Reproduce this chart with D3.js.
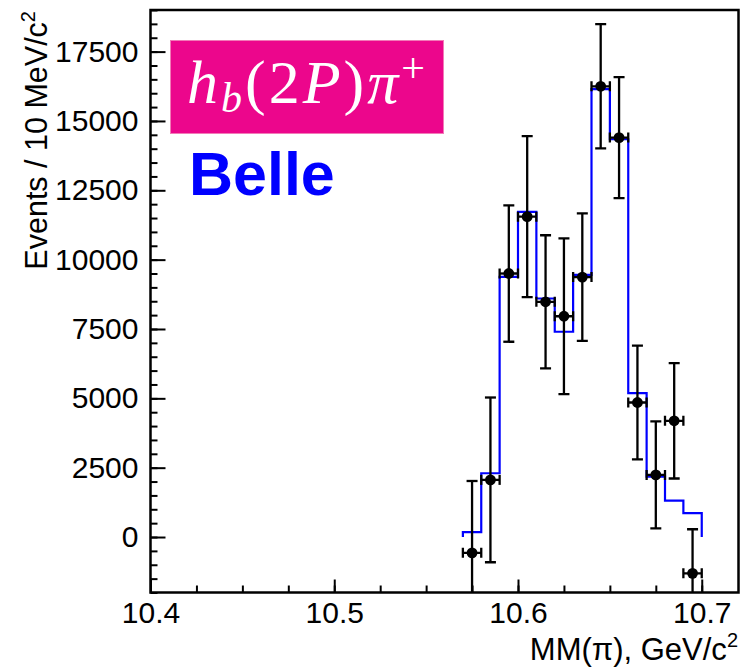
<!DOCTYPE html>
<html>
<head>
<meta charset="utf-8">
<script src="https://cdn.jsdelivr.net/npm/d3@7"></script>
<style>
  html, body { margin: 0; padding: 0; background: #fff; }
  svg { display: block; }
  .tick text { font-family: "Liberation Sans", Arial, sans-serif; }
</style>
</head>
<body>
<svg id="chart" width="743" height="668"></svg>
<script>

// bin centres of the data points, GeV/c^2
const binCenters = [10.575, 10.585, 10.595, 10.605, 10.615, 10.625, 10.635,
  10.645, 10.655, 10.665, 10.675, 10.685, 10.695];

// events per 10 MeV/c^2 and their errors
const dataCounts = [-570, 2060, 9500, 11550, 8480, 7960, 9370,
  16250, 14400, 4850, 2240, 4190, -1310];
const dataErrors = [2590, 2970, 2460, 2900, 2400, 2810, 2300,
  2240, 2180, 2050, 1930, 2080, 1590];

// fit histogram (blue), one value per bin
const binEdges = [10.57, 10.58, 10.59, 10.60, 10.61, 10.62, 10.63,
  10.64, 10.65, 10.66, 10.67, 10.68, 10.69, 10.70];
const fitCounts = [180, 2300, 9380, 11720, 8600, 7400, 9450,
  16150, 14340, 5190, 2180, 1310, 860];

const xMajorTicks = [10.4, 10.5, 10.6, 10.7];
const xMinorTicks = d3.range(10.4, 10.7201, 0.025);
const yMajorTicks = [0, 2500, 5000, 7500, 10000, 12500, 15000, 17500];
const yMinorTicks = d3.range(-2000, 19001, 500);


/**
 * @class
 */
class MassPlot {

  constructor(svg) {

    this._svg = svg;
    this._left = 150.5;
    this._top = 10;
    this._right = 738.5;
    this._bottom = 592.5;

    this._x = d3.scaleLinear()
      .domain([10.4, 10.72])
      .range([this._left, this._right]);

    this._y = d3.scaleLinear()
      .domain([-2000, 19000])
      .range([this._bottom, this._top]);
  }


  /**
   * Draw everything.
   */
  render() {

    this._svg.append('clipPath')
      .attr('id', 'plot-clip')
      .append('rect')
      .attr('x', this._left)
      .attr('y', this._top)
      .attr('width', this._right - this._left)
      .attr('height', this._bottom - this._top);

    this._renderFit();
    this._renderPoints();
    this._renderAxes();
    this._renderLabels();

    return this;
  }


  _renderFit() {

    const x = this._x;
    const y = this._y;

    const pts = [[binEdges[0], 0]];
    fitCounts.forEach((v, i) => {
      pts.push([binEdges[i], v]);
      pts.push([binEdges[i + 1], v]);
    });
    pts.push([binEdges[binEdges.length - 1], 0]);

    const line = d3.line()
      .x(d => x(d[0]))
      .y(d => y(d[1]));

    this._svg.append('path')
      .attr('clip-path', 'url(#plot-clip)')
      .attr('d', line(pts))
      .style('fill', 'none')
      .style('stroke', '#0000ff')
      .style('stroke-width', 2.2);
  }


  _renderPoints() {

    const x = this._x;
    const y = this._y;
    const halfBin = 0.005;
    const cap = 5.5;

    const g = this._svg.append('g')
      .attr('clip-path', 'url(#plot-clip)')
      .style('stroke', '#000')
      .style('stroke-width', 2.3);

    const pts = binCenters.map((c, i) => ({
      x: c, v: dataCounts[i], e: dataErrors[i]
    }));

    const p = g.selectAll('g.point')
      .data(pts)
      .join('g')
      .attr('class', 'point');

    // vertical error
    p.append('line')
      .attr('x1', d => x(d.x)).attr('x2', d => x(d.x))
      .attr('y1', d => y(d.v - d.e)).attr('y2', d => y(d.v + d.e));
    p.append('line')
      .attr('x1', d => x(d.x) - cap).attr('x2', d => x(d.x) + cap)
      .attr('y1', d => y(d.v + d.e)).attr('y2', d => y(d.v + d.e));
    p.append('line')
      .attr('x1', d => x(d.x) - cap).attr('x2', d => x(d.x) + cap)
      .attr('y1', d => y(d.v - d.e)).attr('y2', d => y(d.v - d.e));

    // horizontal error
    p.append('line')
      .attr('x1', d => x(d.x - halfBin)).attr('x2', d => x(d.x + halfBin))
      .attr('y1', d => y(d.v)).attr('y2', d => y(d.v));
    p.append('line')
      .attr('x1', d => x(d.x - halfBin)).attr('x2', d => x(d.x - halfBin))
      .attr('y1', d => y(d.v) - 5).attr('y2', d => y(d.v) + 5);
    p.append('line')
      .attr('x1', d => x(d.x + halfBin)).attr('x2', d => x(d.x + halfBin))
      .attr('y1', d => y(d.v) - 5).attr('y2', d => y(d.v) + 5);

    p.append('circle')
      .attr('cx', d => x(d.x))
      .attr('cy', d => y(d.v))
      .attr('r', 5.4)
      .style('fill', '#000')
      .style('stroke', 'none');
  }


  _renderAxes() {

    const svg = this._svg;

    const xMinor = d3.axisBottom(this._x)
      .tickValues(xMinorTicks).tickSize(-7).tickFormat('');
    const xMajor = d3.axisBottom(this._x)
      .tickValues(xMajorTicks).tickSize(-13).tickPadding(9)
      .tickFormat(d3.format('.1f'));

    const yMinor = d3.axisLeft(this._y)
      .tickValues(yMinorTicks).tickSize(-7).tickFormat('');
    const yMajor = d3.axisLeft(this._y)
      .tickValues(yMajorTicks).tickSize(-15).tickPadding(12)
      .tickFormat(d3.format('d'));

    [xMinor, xMajor].forEach(a => {
      svg.append('g')
        .attr('transform', `translate(0,${this._bottom})`)
        .call(a);
    });
    [yMinor, yMajor].forEach(a => {
      svg.append('g')
        .attr('transform', `translate(${this._left},0)`)
        .call(a);
    });

    svg.selectAll('.domain').remove();
    svg.selectAll('.tick line')
      .style('stroke', '#000')
      .style('stroke-width', 2);
    svg.selectAll('.tick text')
      .style('font-size', '30px')
      .style('fill', '#000');

    svg.append('rect')
      .attr('x', this._left)
      .attr('y', this._top)
      .attr('width', this._right - this._left)
      .attr('height', this._bottom - this._top)
      .style('fill', 'none')
      .style('stroke', '#000')
      .style('stroke-width', 2.5);
  }


  _renderLabels() {

    const svg = this._svg;
    const sans = '"Liberation Sans", Arial, sans-serif';
    const serif = '"Liberation Serif", "Times New Roman", serif';

    // y title
    const yt = svg.append('text')
      .attr('transform', 'translate(47,11) rotate(-90)')
      .attr('text-anchor', 'end')
      .style('font-family', sans)
      .style('font-size', '30.5px');
    yt.append('tspan').text('Events / 10 MeV/c');
    yt.append('tspan').attr('dy', -12).style('font-size', '20px').text('2');

    // x title
    const xt = svg.append('text')
      .attr('x', 738)
      .attr('y', 660)
      .attr('text-anchor', 'end')
      .style('font-family', sans)
      .style('font-size', '31px');
    xt.append('tspan').text('MM(π), GeV/c');
    xt.append('tspan').attr('dy', -13).style('font-size', '20px').text('2');

    // channel label
    svg.append('rect')
      .attr('x', 170.5)
      .attr('y', 40.5)
      .attr('width', 273)
      .attr('height', 93)
      .style('fill', '#ec068c')
      .style('stroke', '#f27ab8')
      .style('stroke-width', 1);

    const lab = svg.append('text')
      .attr('x', 187)
      .attr('y', 103)
      .style('font-family', serif)
      .style('font-size', '62px')
      .style('letter-spacing', '3px')
      .style('fill', '#fff');
    lab.append('tspan').style('font-style', 'italic').text('h');
    lab.append('tspan').style('font-style', 'italic').style('font-size', '42px')
      .attr('dy', 9).text('b');
    lab.append('tspan').attr('dy', -9).text('(2');
    lab.append('tspan').style('font-style', 'italic').text('P');
    lab.append('tspan').text(')');
    lab.append('tspan').style('font-style', 'italic').text('π');
    lab.append('tspan').style('font-size', '42px').attr('dy', -21).text('+');

    svg.append('text')
      .attr('x', 189)
      .attr('y', 195)
      .style('font-family', sans)
      .style('font-weight', 'bold')
      .style('font-size', '61px')
      .style('fill', '#0000ff')
      .text('Belle');
  }
}


new MassPlot(d3.select('#chart')).render();

</script>
</body>
</html>
